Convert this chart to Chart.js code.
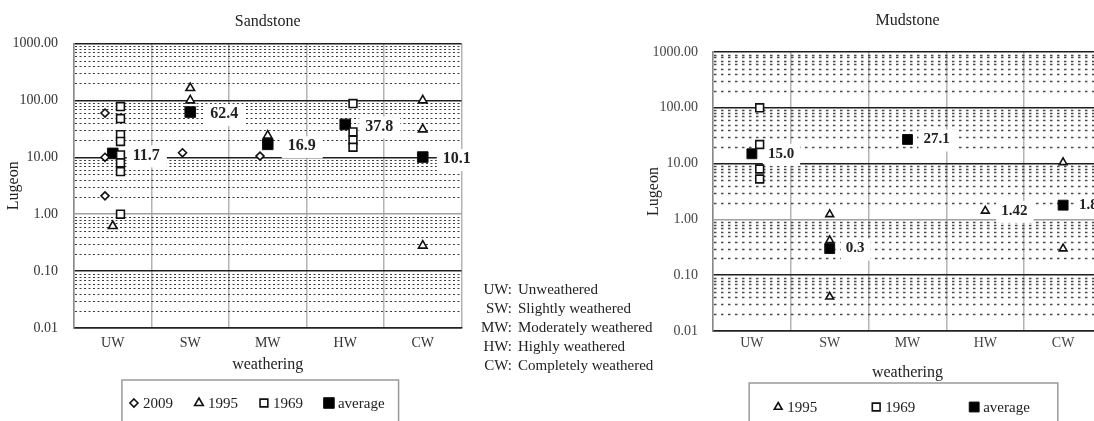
<!DOCTYPE html>
<html><head><meta charset="utf-8">
<script src="https://cdn.jsdelivr.net/npm/chart.js@4.4.1/dist/chart.umd.min.js"></script>
<style>
html,body{margin:0;padding:0;background:#fff;width:1094px;height:421px;overflow:hidden;position:relative}
canvas{position:absolute;top:0}
#c1{left:0}
#c2{left:640px}
#key{position:absolute;left:470px;top:280px;font:15px "Liberation Serif","Times New Roman",serif;color:#222;line-height:19px;z-index:2}
#key table{border-collapse:collapse}
#key td{padding:0;white-space:nowrap}
#key td.a{text-align:right;width:42px}
#key td.b{padding-left:6px}
</style></head><body>
<canvas id="c1" width="470" height="421"></canvas>
<canvas id="c2" width="470" height="421"></canvas>
<div id="key"><table id="keyt"></table></div>
<script>
// ---------- data ----------
const categories = ['UW', 'SW', 'MW', 'HW', 'CW'];
const categoryNames = ['Unweathered', 'Slightly weathered', 'Moderately weathered', 'Highly weathered', 'Completely weathered'];
const yMajorTicks = [0.01, 0.1, 1, 10, 100, 1000];
const yMinorFactors = [2, 3, 4, 5, 6, 7, 8, 9];

// Sandstone (values per weathering grade)
const sandstone2009 = [[60, 10, 2.1], [12], [10.5], [], []];
const sandstone1995 = [[0.62], [165, 100], [24], [], [100, 31, 0.28]];
const sandstone1969 = [[78, 48, 25, 19, 11, 8, 5.6, 1.0], [], [], [88, 28, 20, 15], []];
const sandstoneAvg = [11.7, 62.4, 16.9, 37.8, 10.1];
const sandstoneAvgLabels = ['11.7', '62.4', '16.9', '37.8', '10.1'];

// Mudstone
const mudstone1995 = [[], [1.23, 0.42, 0.041], [], [1.42], [10.5, 0.3]];
const mudstone1969 = [[100, 22, 8, 5.3], [], [], [], []];
const mudstoneAvg = [15.0, 0.3, 27.1, 1.42, 1.8];
const mudstoneAvgLabels = ['15.0', '0.3', '27.1', '1.42', '1.8'];

// ---------- key text ----------
const keyt = document.getElementById('keyt');
categories.forEach((c, i) => {
  const tr = document.createElement('tr');
  const a = document.createElement('td'); a.className = 'a'; a.textContent = c + ':';
  const b = document.createElement('td'); b.className = 'b'; b.textContent = categoryNames[i];
  tr.appendChild(a); tr.appendChild(b); keyt.appendChild(tr);
});

// ---------- helpers ----------
const FONT = '"Liberation Serif", "Times New Roman", Times, serif';
Chart.defaults.font.family = FONT;
Chart.defaults.color = '#333';

const xTickValues = [];
for (let i = 0; i <= categories.length; i++) { xTickValues.push(i); if (i < categories.length) xTickValues.push(i + 0.5); }

function catPoints(series, shift) {
  const pts = [];
  series.forEach((vals, i) => vals.forEach(v => pts.push({ x: i + 0.5 + shift, y: v })));
  return pts;
}
function avgPoints(avg) { return avg.map((v, i) => ({ x: i + 0.5, y: v })); }
function coincident(avg, others) { return avg.map((v, i) => others.some(s => s[i].includes(v))); }

function dataset(label, data, style, r, fill, bw) {
  return { label, data, pointStyle: style, pointRadius: r, pointHoverRadius: r,
    pointBorderColor: '#111', pointBackgroundColor: fill, pointBorderWidth: bw,
    borderColor: '#111', backgroundColor: fill, borderWidth: bw, showLine: false, legendRadius: r };
}

function drawMarker(ctx, style, x, y, r) {
  ctx.beginPath();
  if (style === 'rectRot') { ctx.moveTo(x, y - r); ctx.lineTo(x + r, y); ctx.lineTo(x, y + r); ctx.lineTo(x - r, y); ctx.closePath(); }
  else if (style === 'triangle') { ctx.moveTo(x, y - r); ctx.lineTo(x + r * 0.866, y + r * 0.5); ctx.lineTo(x - r * 0.866, y + r * 0.5); ctx.closePath(); }
  else { const s = r * Math.SQRT1_2; ctx.rect(x - s, y - s, 2 * s, 2 * s); }
  ctx.fill(); ctx.stroke();
}

const minorGrid = {
  id: 'minorGrid',
  beforeDatasetsDraw(chart, args, o) {
    const { ctx, chartArea: ca, scales: { y } } = chart;
    ctx.save();
    ctx.beginPath(); ctx.rect(ca.left, ca.top, ca.right - ca.left, ca.bottom - ca.top); ctx.clip();
    ctx.strokeStyle = o.color; ctx.lineWidth = o.width; ctx.setLineDash(o.dash);
    for (const d of yMajorTicks.slice(0, -1)) for (const f of yMinorFactors) {
      const py = Math.round(y.getPixelForValue(d * f)) + 0.5;
      ctx.beginPath(); ctx.moveTo(ca.left + 1, py); ctx.lineTo(ca.right, py); ctx.stroke();
    }
    ctx.restore();
  }
};

const avgLabels = {
  id: 'avgLabels',
  beforeDatasetsDraw(chart, args, o) {
    const dsets = chart.data.datasets;
    const idx = dsets.findIndex(d => d.avgLabels);
    if (idx < 0) return;
    const meta = chart.getDatasetMeta(idx);
    const ctx = chart.ctx;
    ctx.save(); ctx.font = o.font; ctx.textBaseline = 'middle'; ctx.textAlign = 'left';
    meta.data.forEach((el, i) => {
      const t = dsets[idx].avgLabels[i];
      const w = ctx.measureText(t).width;
      const x = el.x + o.dx, y = el.y + o.dy;
      ctx.fillStyle = '#fff';
      ctx.fillRect(x - o.padL, y - o.padT, w + o.padL + o.padR, o.padT + o.padB);
      ctx.fillStyle = o.color; ctx.fillText(t, x, y);
    });
    ctx.restore();
  }
};

const boxLegend = {
  id: 'boxLegend',
  afterDraw(chart, args, o) {
    const ctx = chart.ctx, ca = chart.chartArea;
    const items = chart.data.datasets;
    ctx.save();
    ctx.font = o.font; ctx.textBaseline = 'middle'; ctx.textAlign = 'left';
    const widths = items.map(d => o.marker + o.markerGap + ctx.measureText(d.label).width);
    const total = widths.reduce((a, b) => a + b, 0) + o.gap * (items.length - 1);
    let x = (ca.left + ca.right) / 2 - total / 2 + o.shift;
    ctx.strokeStyle = o.boxColor; ctx.lineWidth = 1.5;
    ctx.strokeRect(x - o.padL, o.y - o.padT, total + o.padL + o.padR, 200);
    items.forEach((d, i) => {
      ctx.fillStyle = d.backgroundColor; ctx.strokeStyle = d.borderColor; ctx.lineWidth = d.borderWidth;
      drawMarker(ctx, d.pointStyle, x + o.marker / 2, o.y, d.legendRadius);
      ctx.fillStyle = o.color;
      ctx.fillText(d.label, x + o.marker + o.markerGap, o.y + 1);
      x += widths[i] + o.gap;
    });
    ctx.restore();
  }
};

function makeChart(id, title, datasets, L) {
  return new Chart(document.getElementById(id), {
    type: 'scatter',
    data: { datasets },
    plugins: [minorGrid, avgLabels, boxLegend],
    options: {
      responsive: false, animation: false, devicePixelRatio: 1, events: [],
      layout: { padding: L.padding },
      plugins: {
        legend: { display: false }, tooltip: { enabled: false },
        title: { display: true, text: title, fullSize: false, color: '#222', font: { size: 16, weight: 'normal' }, padding: L.titlePad },
        minorGrid: L.minor,
        avgLabels: L.labels,
        boxLegend: L.legend
      },
      scales: {
        x: {
          type: 'linear', min: 0, max: categories.length,
          afterBuildTicks: s => { s.ticks = xTickValues.map(v => ({ value: v })); },
          afterFit: s => { s.height = L.xH; },
          grid: { color: c => (c.tick && Number.isInteger(c.tick.value)) ? '#b4b4b4' : 'rgba(0,0,0,0)', lineWidth: 1.5, drawTicks: false },
          border: { color: '#222', width: 1.5 },
          ticks: { autoSkip: false, maxRotation: 0, padding: L.xPad, color: L.tickColor, font: { size: 14 },
            callback: v => (Math.abs(v % 1 - 0.5) < 1e-9) ? categories[Math.floor(v)] : '' },
          title: { display: true, text: 'weathering', color: '#222', font: { size: 16 }, padding: { top: 0, bottom: L.xTitlePad } }
        },
        y: {
          type: 'logarithmic', min: yMajorTicks[0], max: yMajorTicks[yMajorTicks.length - 1],
          afterBuildTicks: s => { s.ticks = yMajorTicks.map(v => ({ value: v })); },
          afterFit: s => { s.width = L.yW; },
          grid: { color: c => (c.tick && c.tick.value === 1) ? '#a0a0a0' : '#1e1e1e', lineWidth: 1.5, drawTicks: false },
          border: { color: '#8a8a8a', width: 1.5 },
          ticks: { padding: L.yPad, color: L.tickColor, font: { size: 14 }, callback: v => Number(v).toFixed(2) },
          title: { display: true, text: 'Lugeon', color: '#222', font: { size: 16 }, padding: { top: 4.4, bottom: 0 } }
        }
      }
    }
  });
}

// ---------- Sandstone ----------
const sandAvgSet = dataset('average', avgPoints(sandstoneAvg), 'rect', 7.5, '#000', 1);
sandAvgSet.avgLabels = sandstoneAvgLabels;
makeChart('c1', 'Sandstone', [
  dataset('2009', catPoints(sandstone2009, -0.1), 'rectRot', 4, '#fff', 1.6),
  dataset('1995', catPoints(sandstone1995, 0), 'triangle', 5, '#fff', 1.6),
  dataset('1969', catPoints(sandstone1969, 0.1), 'rect', 5.5, '#fff', 1.6),
  sandAvgSet
], {
  padding: { left: 0, right: 6, top: 0, bottom: 45 },
  titlePad: { top: 12.4, bottom: 11.9 },
  xH: 48, xTitlePad: 2, xPad: 6.6, yW: 74, yPad: 16, tickColor: '#333',
  minor: { color: '#3a3a3a', width: 1.2, dash: [2, 2.5] },
  labels: { font: 'bold 16px ' + FONT, color: '#222', dx: 20, dy: 2, padL: 6, padR: 7, padT: 10, padB: 12 },
  legend: { y: 403, gap: 21, marker: 10, markerGap: 4, font: '15px ' + FONT, color: '#222', shift: -11, padL: 7, padR: 14, padT: 23, boxColor: '#9a9a9a' }
});

// ---------- Mudstone ----------
const mudHide = coincident(mudstoneAvg, [mudstone1995, mudstone1969]);
const mudAvgSet = dataset('average', avgPoints(mudstoneAvg), 'rect', 7, '#000', 1);
mudAvgSet.pointRadius = c => mudHide[c.dataIndex] ? 0 : 7;
mudAvgSet.avgLabels = mudstoneAvgLabels;
makeChart('c2', 'Mudstone', [
  dataset('1995', catPoints(mudstone1995, 0), 'triangle', 4.5, '#fff', 1.6),
  dataset('1969', catPoints(mudstone1969, 0.1), 'rect', 5.5, '#fff', 1.6),
  mudAvgSet
], {
  padding: { left: 0, right: 4, top: 0, bottom: 39 },
  titlePad: { top: 11.4, bottom: 21.4 },
  xH: 51, xTitlePad: 0, xPad: 3.6, yW: 73, yPad: 15, tickColor: '#444',
  minor: { color: '#4a4a4a', width: 1.4, dash: [2.5, 4.5] },
  labels: { font: 'bold 15px ' + FONT, color: '#222', dx: 16, dy: 0, padL: 5, padR: 6, padT: 10, padB: 12 },
  legend: { y: 407, gap: 54, marker: 10, markerGap: 4, font: '15px ' + FONT, color: '#222', shift: -6, padL: 24, padR: 28, padT: 24, boxColor: '#9a9a9a' }
});
</script>
</body></html>
